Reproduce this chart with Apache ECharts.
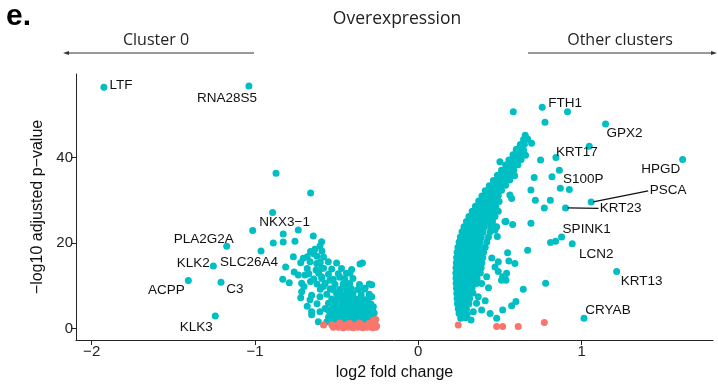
<!DOCTYPE html>
<html>
<head>
<meta charset="utf-8">
<script src="https://cdn.jsdelivr.net/npm/echarts@6/dist/echarts.min.js"></script>
<style>
  html, body { margin: 0; padding: 0; background: #fff; }
  #chart { width: 718px; height: 389px; }
</style>
</head>
<body>
<div id="chart"></div>
<script>
// Volcano plot: cluster 0 vs all other clusters

// Axis ticks
const xTicks = [-2, -1, 0, 1];
const yTicks = [0, 20, 40];

// Named genes: [log2FC, -log10 padj]
const geneNames = ['LTF', 'RNA28S5', 'NKX3\u22121', 'PLA2G2A', 'KLK2', 'SLC26A4', 'ACPP', 'C3', 'KLK3',
  'FTH1', 'GPX2', 'KRT17', 'S100P', 'HPGD', 'PSCA', 'KRT23', 'SPINK1', 'LCN2', 'KRT13', 'CRYAB'];
const geneFC = [-1.925, -1.037, -1.014, -1.173, -1.255, -0.963, -1.408, -1.208, -1.243,
  0.759, 1.147, 0.843, 0.925, 1.619, 1.059, 0.902, 0.878, 0.943, 1.215, 1.015];
const genePadj = [56.4, 56.7, 22.9, 19.2, 14.6, 18.1, 11.2, 10.8, 2.9,
  51.7, 47.8, 40.0, 32.5, 39.5, 29.6, 28.2, 21.4, 19.8, 13.3, 2.4];

// Significant genes up in cluster 0 (negative fold change)
const clusterZeroUp = [
  [-0.871, 36.3], [-0.659, 31.7], [-0.892, 27.1], [-0.735, 23.0], [-0.827, 22.1], [-0.888, 20.0],
  [-0.827, 20.2], [-0.755, 20.4], [-0.643, 21.6], [-0.592, 20.3], [-0.602, 19.3], [-0.633, 18.5],
  [-0.765, 16.8], [-0.704, 16.4], [-0.551, 15.6], [-0.663, 15.6], [-0.622, 15.2], [-0.592, 14.1],
  [-0.812, 14.4], [-0.626, 13.7], [-0.408, 13.8], [-0.357, 15.1], [-0.342, 15.3], [-0.418, 12.9],
  [-0.735, 12.5], [-0.694, 12.5], [-0.714, 10.6], [-0.830, 11.5], [-0.790, 10.7], [-0.592, 12.1],
  [-0.541, 11.3], [-0.479, 12.0], [-0.582, 9.8], [-0.520, 9.0], [-0.438, 9.8], [-0.326, 9.4],
  [-0.285, 10.2], [-0.714, 8.6], [-0.653, 7.8], [-0.663, 6.7], [-0.602, 7.4], [-0.653, 3.9],
  [-0.653, 3.2], [-0.602, 3.9], [-0.551, 4.3], [-0.612, 1.6], [-0.510, 5.9], [-0.459, 6.7],
  [-0.377, 6.7], [-0.337, 6.7], [-0.285, 7.4], [-0.275, 5.1], [-0.316, 3.9], [-0.479, 2.8],
  [-0.398, 2.8],
  [-0.56, 1.6], [-0.53, 1.5], [-0.50, 1.7], [-0.47, 1.6], [-0.44, 1.5], [-0.41, 1.7], [-0.38, 1.6],
  [-0.35, 1.5], [-0.32, 1.7], [-0.29, 1.6], [-0.27, 1.8],
  [-0.55, 2.6], [-0.52, 2.7], [-0.49, 2.5], [-0.46, 2.6], [-0.43, 2.7], [-0.40, 2.5], [-0.37, 2.6],
  [-0.34, 2.7], [-0.31, 2.5], [-0.28, 2.6],
  [-0.54, 3.6], [-0.51, 3.5], [-0.48, 3.7], [-0.45, 3.6], [-0.42, 3.5], [-0.39, 3.7], [-0.36, 3.6],
  [-0.33, 3.5], [-0.30, 3.7], [-0.27, 3.6],
  [-0.57, 4.7], [-0.52, 4.8], [-0.49, 4.6], [-0.46, 4.7], [-0.43, 4.8], [-0.40, 4.6], [-0.37, 4.7],
  [-0.34, 4.8], [-0.31, 4.6], [-0.28, 4.7],
  [-0.62, 5.8], [-0.55, 5.9], [-0.47, 5.7], [-0.44, 5.8], [-0.41, 5.9], [-0.38, 5.7], [-0.35, 5.8],
  [-0.32, 5.9], [-0.29, 5.7],
  [-0.53, 6.9], [-0.49, 7.0], [-0.45, 6.8], [-0.42, 6.9], [-0.39, 7.0], [-0.36, 6.8], [-0.31, 6.9],
  [-0.56, 8.0], [-0.50, 8.1], [-0.46, 7.9], [-0.43, 8.0], [-0.40, 8.1], [-0.35, 7.9], [-0.30, 8.0],
  [-0.60, 9.2], [-0.54, 9.3], [-0.48, 9.1], [-0.44, 9.2], [-0.41, 9.3], [-0.37, 9.1], [-0.33, 9.2],
  [-0.62, 10.4], [-0.57, 10.5], [-0.51, 10.3], [-0.46, 10.4], [-0.42, 10.5], [-0.36, 10.3], [-0.30, 10.4],
  [-0.64, 11.6], [-0.59, 11.7], [-0.52, 11.5], [-0.45, 11.6], [-0.40, 11.7],
  [-0.67, 12.8], [-0.61, 12.9], [-0.55, 12.7], [-0.49, 12.8], [-0.44, 12.9],
  [-0.68, 14.0], [-0.58, 14.1], [-0.53, 13.9], [-0.47, 14.0],
  [-0.72, 15.4], [-0.60, 15.5], [-0.50, 15.3],
  [-0.68, 16.8], [-0.62, 16.9], [-0.58, 16.7],
  [-0.66, 18.0], [-0.64, 17.5], [-0.59, 18.1],
  [-0.70, 9.8], [-0.68, 5.2], [-0.72, 7.2], [-0.66, 11.0], [-0.76, 13.2]
];

// Significant genes up in the other clusters (positive fold change)
const otherClustersUp = [
  [0.26, 2.4], [0.29, 2.5],
  [0.25, 3.5], [0.275, 3.6], [0.30, 3.4],
  [0.245, 4.6], [0.27, 4.7], [0.295, 4.5],
  [0.24, 5.8], [0.265, 5.9], [0.29, 5.7], [0.31, 5.8],
  [0.238, 7.0], [0.262, 7.1], [0.288, 6.9], [0.315, 7.0],
  [0.236, 8.2], [0.26, 8.3], [0.285, 8.1], [0.31, 8.2], [0.335, 8.3],
  [0.234, 9.4], [0.258, 9.5], [0.283, 9.3], [0.308, 9.4], [0.33, 9.5],
  [0.232, 10.6], [0.256, 10.7], [0.28, 10.5], [0.305, 10.6], [0.33, 10.7], [0.355, 10.5],
  [0.231, 11.8], [0.255, 11.9], [0.28, 11.7], [0.305, 11.8], [0.33, 11.9], [0.36, 11.7],
  [0.23, 13.0], [0.255, 13.1], [0.28, 12.9], [0.305, 13.0], [0.33, 13.1], [0.355, 12.9], [0.38, 13.0],
  [0.231, 14.2], [0.256, 14.3], [0.282, 14.1], [0.307, 14.2], [0.333, 14.3], [0.36, 14.1], [0.385, 14.2],
  [0.233, 15.4], [0.258, 15.5], [0.284, 15.3], [0.31, 15.4], [0.336, 15.5], [0.362, 15.3], [0.39, 15.4],
  [0.235, 16.6], [0.26, 16.7], [0.286, 16.5], [0.312, 16.6], [0.338, 16.7], [0.365, 16.5], [0.395, 16.6],
  [0.238, 17.8], [0.263, 17.9], [0.29, 17.7], [0.316, 17.8], [0.342, 17.9], [0.37, 17.7], [0.40, 17.8],
  [0.243, 19.0], [0.268, 19.1], [0.294, 18.9], [0.32, 19.0], [0.346, 19.1], [0.372, 18.9], [0.41, 19.0],
  [0.25, 20.2], [0.275, 20.3], [0.30, 20.1], [0.326, 20.2], [0.352, 20.3], [0.378, 20.1], [0.42, 20.2],
  [0.258, 21.4], [0.283, 21.5], [0.308, 21.3], [0.334, 21.4], [0.36, 21.5], [0.386, 21.3], [0.43, 21.4],
  [0.268, 22.6], [0.293, 22.7], [0.318, 22.5], [0.344, 22.6], [0.37, 22.7], [0.396, 22.5], [0.44, 22.6],
  [0.28, 23.8], [0.305, 23.9], [0.33, 23.7], [0.355, 23.8], [0.38, 23.9], [0.405, 23.7], [0.445, 23.8],
  [0.295, 25.0], [0.32, 25.1], [0.345, 24.9], [0.37, 25.0], [0.395, 25.1], [0.42, 24.9], [0.455, 25.0],
  [0.31, 26.2], [0.335, 26.3], [0.36, 26.1], [0.385, 26.2], [0.41, 26.3], [0.435, 26.1], [0.47, 26.2],
  [0.33, 27.4], [0.355, 27.5], [0.38, 27.3], [0.405, 27.4], [0.43, 27.5], [0.455, 27.3], [0.49, 27.4],
  [0.35, 28.6], [0.375, 28.7], [0.40, 28.5], [0.425, 28.6], [0.45, 28.7], [0.475, 28.5],
  [0.37, 29.8], [0.395, 29.9], [0.42, 29.7], [0.445, 29.8], [0.47, 29.9], [0.495, 29.7],
  [0.39, 31.0], [0.415, 31.1], [0.44, 30.9], [0.465, 31.0], [0.49, 31.1],
  [0.41, 32.2], [0.435, 32.3], [0.46, 32.1], [0.485, 32.2], [0.51, 32.3],
  [0.435, 33.4], [0.46, 33.5], [0.485, 33.3], [0.51, 33.4], [0.535, 33.5],
  [0.46, 34.6], [0.485, 34.7], [0.51, 34.5], [0.535, 34.6], [0.56, 34.7],
  [0.485, 35.8], [0.51, 35.9], [0.535, 35.7], [0.56, 35.8], [0.59, 35.7],
  [0.51, 37.0], [0.535, 37.1], [0.56, 36.9], [0.585, 37.0],
  [0.535, 38.2], [0.56, 38.3], [0.585, 38.1], [0.61, 38.3],
  [0.555, 39.4], [0.58, 39.5], [0.605, 39.3], [0.63, 39.5],
  [0.58, 40.6], [0.605, 40.7], [0.63, 40.5],
  [0.60, 41.8], [0.625, 41.9], [0.645, 41.7],
  [0.625, 43.0], [0.65, 43.1],
  [0.645, 44.2], [0.67, 44.3],
  [0.582, 50.7], [0.776, 48.2], [0.914, 50.7], [0.655, 45.2], [0.694, 43.3], [0.602, 41.9],
  [0.606, 40.9], [0.657, 40.5], [1.047, 42.6], [0.749, 39.4], [0.864, 37.0], [0.819, 35.5],
  [0.71, 35.3], [0.87, 32.8], [0.690, 32.4], [0.717, 30.0], [0.809, 30.0], [0.772, 28.2],
  [0.69, 24.6], [0.537, 25.0], [0.578, 24.3], [0.81, 20.1], [0.841, 20.4], [0.67, 18.3],
  [0.547, 17.7], [0.592, 15.2], [0.49, 15.6], [0.47, 14.4], [0.537, 11.3], [0.517, 12.1],
  [0.78, 10.6], [0.643, 9.2], [0.598, 6.3], [0.572, 5.3], [0.517, 4.3], [0.48, 2.4],
  [0.50, 39.0], [0.617, 39.4], [0.561, 31.2], [0.572, 30.4], [0.531, 25.0], [0.48, 23.8],
  [0.47, 23.0], [0.484, 21.5], [0.555, 15.8], [0.49, 13.3], [0.51, 11.3], [0.541, 12.9],
  [0.531, 11.7], [0.419, 12.1], [0.388, 10.5], [0.357, 13.3], [0.337, 11.3], [0.367, 7.4],
  [0.357, 5.9], [0.388, 4.3], [0.337, 3.9], [0.323, 2.0], [0.266, 4.3], [0.276, 3.1],
  [0.45, 16.5], [0.43, 9.5], [0.41, 6.5], [0.44, 3.5]
];

// Genes that do not pass the significance cut-off
const notSignificant = [
  [-0.58, 0.8], [-0.53, 0.9], [-0.50, 0.7], [-0.47, 0.8], [-0.44, 0.9], [-0.41, 0.7], [-0.38, 0.8],
  [-0.35, 0.9], [-0.32, 0.7], [-0.29, 0.8], [-0.265, 0.9],
  [-0.52, 0.3], [-0.49, 0.3], [-0.46, 0.2], [-0.43, 0.3], [-0.40, 0.2], [-0.37, 0.3], [-0.34, 0.2],
  [-0.31, 0.3], [-0.28, 0.2], [-0.26, 0.3],
  [-0.48, 1.3], [-0.42, 1.2], [-0.36, 1.3], [-0.30, 1.2], [-0.27, 1.4],
  [-0.275, 1.9], [-0.26, 2.1], [-0.255, 0.6],
  [0.245, 0.8], [0.48, 0.45], [0.517, 0.45], [0.612, 0.45], [0.772, 1.4]
];

// Label placement (label centre relative to the dot, in px)
const labelShift = [
  [17, -2], [-22, 12], [32, -8], [-23, -7], [-20, -3], [-12, 11], [-22, 10], [14, 7], [-19, 11],
  [23, -4], [19, 9], [21, -5], [14, -10], [-22, 10], [77, -12], [55, 0], [25, -8], [24, 10], [25, 10], [24, -8]
];
// Leader segments (end point relative to the dot, in px), by gene index
const leaders = { 14: [57, -11], 15: [33, 0.5] };

const TEAL = '#00BFC4';
const SALMON = '#F8766D';
const FONT = '"Liberation Sans", Arial, Helvetica, sans-serif';
const minus = v => String(v).replace('-', '\u2212');

const namedData = geneNames.map((n, i) => ({
  name: n,
  value: [geneFC[i], genePadj[i]],
  label: { offset: labelShift[i] }
}));

const chart = echarts.init(document.getElementById('chart'), null, { renderer: 'canvas' });

chart.setOption({
  animation: false,
  backgroundColor: '#fff',
  grid: { left: 76, right: 5, top: 74, bottom: 49 },
  xAxis: {
    type: 'value', min: -2.096, max: 1.805,
    name: 'log2 fold change', nameLocation: 'middle', nameGap: 25,
    nameTextStyle: { fontFamily: FONT, fontSize: 16, color: '#111' },
    axisLine: { show: true, onZero: false, lineStyle: { color: '#222', width: 1 } },
    axisTick: { show: true, length: 5, customValues: xTicks, lineStyle: { color: '#222' } },
    axisLabel: { customValues: xTicks, formatter: minus, fontFamily: FONT, fontSize: 15, color: '#222', margin: 4 },
    splitLine: { show: false }
  },
  yAxis: {
    type: 'value', min: -2.69, max: 59.5,
    name: '\u2212log10 adjusted p\u2212value', nameLocation: 'middle', nameGap: 30, nameRotate: 90,
    nameTextStyle: { fontFamily: FONT, fontSize: 16, color: '#111' },
    axisLine: { show: true, onZero: false, lineStyle: { color: '#222', width: 1 } },
    axisTick: { show: true, length: 5, customValues: yTicks, lineStyle: { color: '#222' } },
    axisLabel: { customValues: yTicks, formatter: minus, fontFamily: FONT, fontSize: 15, color: '#222', margin: 3 },
    splitLine: { show: false }
  },
  series: [
    { type: 'scatter', data: clusterZeroUp, symbolSize: 7, itemStyle: { color: TEAL, opacity: 1 }, silent: true },
    { type: 'scatter', data: otherClustersUp, symbolSize: 7, itemStyle: { color: TEAL, opacity: 1 }, silent: true },
    { type: 'scatter', data: notSignificant, symbolSize: 7, itemStyle: { color: SALMON, opacity: 1 }, silent: true },
    {
      type: 'scatter', data: namedData, symbolSize: 7, itemStyle: { color: TEAL, opacity: 1 }, silent: true, z: 5,
      label: {
        show: true, position: 'inside', formatter: p => p.name,
        fontFamily: FONT, fontSize: 13.5, color: '#111', align: 'center', verticalAlign: 'middle'
      }
    }
  ],
  graphic: [
    { type: 'text', left: 6, top: 2, style: { text: 'e.', font: 'bold 30px ' + FONT, fill: '#000' } },
    { type: 'text', x: 397, y: 19, style: { text: 'Overexpression', font: '17.5px "Open Sans", sans-serif', fill: '#222', textAlign: 'center', textVerticalAlign: 'middle' } },
    { type: 'text', x: 156, y: 40, style: { text: 'Cluster 0', font: '16px "Open Sans", sans-serif', fill: '#222', textAlign: 'center', textVerticalAlign: 'middle' } },
    { type: 'text', x: 620, y: 40, style: { text: 'Other clusters', font: '16px "Open Sans", sans-serif', fill: '#222', textAlign: 'center', textVerticalAlign: 'middle' } },
    { type: 'line', shape: { x1: 68, y1: 53, x2: 254, y2: 53 }, style: { stroke: '#333', lineWidth: 1 } },
    { type: 'polygon', shape: { points: [[63, 53], [69, 51], [69, 55]] }, style: { fill: '#333' } },
    { type: 'line', shape: { x1: 528, y1: 53, x2: 712, y2: 53 }, style: { stroke: '#333', lineWidth: 1 } },
    { type: 'polygon', shape: { points: [[717, 53], [711, 51], [711, 55]] }, style: { fill: '#333' } }
  ]
});

// Leader segments for labels that sit away from their dots
const leaderGraphics = Object.keys(leaders).map(k => {
  const i = Number(k);
  const p = chart.convertToPixel({ gridIndex: 0 }, [geneFC[i], genePadj[i]]);
  const d = leaders[k];
  return { type: 'line', z: 10, shape: { x1: p[0] + 2, y1: p[1], x2: p[0] + d[0], y2: p[1] + d[1] }, style: { stroke: '#111', lineWidth: 1.2 } };
});
chart.setOption({ graphic: chart.getOption().graphic[0].elements.concat(leaderGraphics) });
</script>
</body>
</html>
